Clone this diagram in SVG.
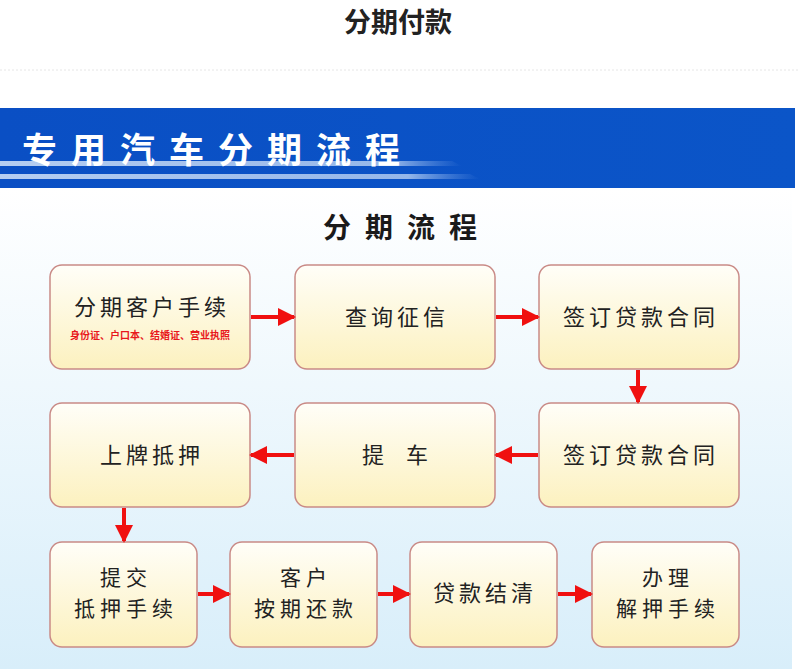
<svg xmlns="http://www.w3.org/2000/svg" width="800" height="669" viewBox="0 0 800 669">
<defs>
<linearGradient id="bg" x1="0" y1="0" x2="0" y2="1">
<stop offset="0" stop-color="#ffffff"/>
<stop offset="1" stop-color="#d8eefa"/>
</linearGradient>
<linearGradient id="box" x1="0" y1="0" x2="0" y2="1">
<stop offset="0" stop-color="#fffef8"/>
<stop offset="1" stop-color="#fcf1bf"/>
</linearGradient>
<linearGradient id="banner" x1="0" y1="0" x2="1" y2="0">
<stop offset="0" stop-color="#0a4fc4"/>
<stop offset="1" stop-color="#0b55c8"/>
</linearGradient>
<linearGradient id="stripe" x1="0" y1="0" x2="1" y2="0">
<stop offset="0" stop-color="#c9dcf6" stop-opacity="0.9"/>
<stop offset="0.85" stop-color="#b8d0f2" stop-opacity="0.8"/>
<stop offset="1" stop-color="#7fa8e8" stop-opacity="0"/>
</linearGradient>
<marker id="ah" markerWidth="4.5" markerHeight="4.5" refX="4" refY="2.25" orient="auto" markerUnits="strokeWidth">
<path d="M0,0 L4.5,2.25 L0,4.5 Z" fill="#f01010"/>
</marker>
<style>
.node rect{fill:url(#box);stroke:#c98a86;stroke-width:1.5}
.t{font-family:"Noto Sans CJK SC","Noto Sans",sans-serif;font-size:22px;letter-spacing:4px;fill:#222;text-anchor:middle}
.t2{font-family:"Noto Sans CJK SC","Noto Sans",sans-serif;font-size:21px;letter-spacing:5px;fill:#222;text-anchor:middle}
.c{stroke:#f01010;stroke-width:4;fill:none;marker-end:url(#ah)}
</style>
</defs>
<rect width="800" height="669" fill="#ffffff"/>
<text x="398" y="32" font-family="Noto Sans CJK SC,sans-serif" font-size="27" font-weight="bold" fill="#222" text-anchor="middle">分期付款</text>
<line x1="0" y1="70" x2="800" y2="70" stroke="#e6e6e6" stroke-width="1" stroke-dasharray="2,2"/>
<rect x="0" y="188" width="792" height="481" fill="url(#bg)"/>
<rect x="0" y="108" width="795" height="80" fill="url(#banner)"/>
<path d="M0,161 L452,161 L462,166 L0,166 Z" fill="url(#stripe)"/>
<path d="M0,174 L470,174 L480,179 L0,179 Z" fill="url(#stripe)"/>
<text x="22" y="163" font-family="Noto Sans CJK SC,sans-serif" font-size="35" font-weight="bold" fill="#ffffff" letter-spacing="14">专用汽车分期流程</text>
<text x="407" y="238" font-family="Noto Sans CJK SC,sans-serif" font-size="28" font-weight="bold" fill="#1a1a1a" text-anchor="middle" letter-spacing="14">分期流程</text>
<g id="n1" class="node"><rect x="50" y="265" width="200" height="104" rx="12"/><text class="t" x="152" y="315">分期客户手续</text><text x="150" y="339" font-family="Noto Sans CJK SC,sans-serif" font-size="10" font-weight="bold" fill="#e8181c" text-anchor="middle">身份证、户口本、结婚证、营业执照</text></g>
<g id="n2" class="node"><rect x="295" y="265" width="200" height="104" rx="12"/><text class="t" x="397" y="325">查询征信</text></g>
<g id="n3" class="node"><rect x="539" y="265" width="200" height="104" rx="12"/><text class="t" x="641" y="325">签订贷款合同</text></g>
<g id="n4" class="node"><rect x="50" y="403" width="200" height="104" rx="12"/><text class="t" x="152" y="463">上牌抵押</text></g>
<g id="n5" class="node"><rect x="295" y="403" width="200" height="104" rx="12"/><text class="t" x="397" y="463" xml:space="preserve">提  车</text></g>
<g id="n6" class="node"><rect x="539" y="403" width="200" height="104" rx="12"/><text class="t" x="641" y="463">签订贷款合同</text></g>
<g id="n7" class="node"><rect x="50" y="542" width="147" height="105" rx="12"/><text class="t2" x="126" y="585">提交</text><text class="t2" x="126" y="616">抵押手续</text></g>
<g id="n8" class="node"><rect x="230" y="542" width="147" height="105" rx="12"/><text class="t2" x="306" y="585">客户</text><text class="t2" x="306" y="616">按期还款</text></g>
<g id="n9" class="node"><rect x="410" y="542" width="147" height="105" rx="12"/><text class="t" x="485" y="601">贷款结清</text></g>
<g id="n10" class="node"><rect x="592" y="542" width="147" height="105" rx="12"/><text class="t2" x="668" y="585">办理</text><text class="t2" x="668" y="616">解押手续</text></g>
<g id="connectors">
<line class="c" x1="251" y1="317" x2="294" y2="317"/>
<line class="c" x1="496" y1="317" x2="538" y2="317"/>
<line class="c" x1="638" y1="370" x2="638" y2="402"/>
<line class="c" x1="538" y1="455" x2="496" y2="455"/>
<line class="c" x1="294" y1="455" x2="251" y2="455"/>
<line class="c" x1="124" y1="508" x2="124" y2="541"/>
<line class="c" x1="198" y1="594" x2="229" y2="594"/>
<line class="c" x1="378" y1="594" x2="409" y2="594"/>
<line class="c" x1="558" y1="594" x2="591" y2="594"/>
</g>
</svg>
